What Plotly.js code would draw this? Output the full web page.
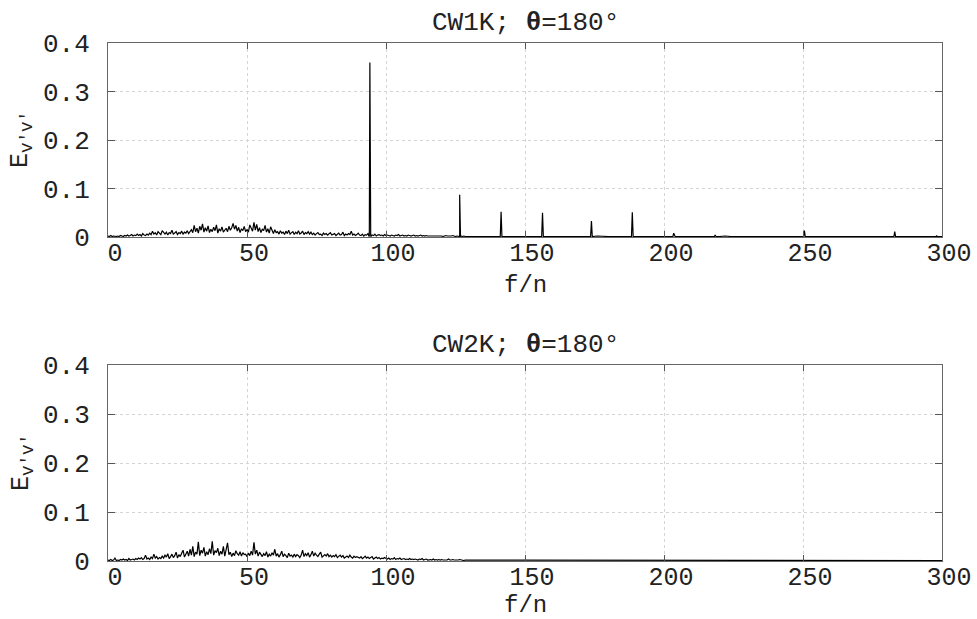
<!DOCTYPE html>
<html>
<head>
<meta charset="utf-8">
<script src="https://cdn.plot.ly/plotly-3.0.1.min.js"></script>
<style>html,body{margin:0;padding:0;background:#fff;}#chart{width:977px;height:619px;}</style>
</head>
<body>
<div id="chart"></div>
<script>
// ---------- DATA (values in thousandths of E_v'v') ----------
// Dense spectrum 0 .. 129.5, step 0.5 (rows of 10 f/n units)
const noiseStep = 0.5;
const tailStart = 130;
const tailStep = 2;

const cw1kNoise = [
  2,1,3,1,2,1,1,2,1,3,2,1,3,2,4,2,3,5,2,4,
  3,6,3,5,2,7,4,3,6,4,8,5,12,6,9,4,11,7,5,13,
  8,6,10,4,9,7,14,6,8,11,5,9,7,12,6,10,8,13,7,11,
  15,9,24,11,18,8,22,14,27,10,19,12,23,9,16,11,20,13,25,8,
  17,12,21,10,15,18,11,22,14,19,28,16,24,12,20,9,17,13,22,11,
  15,10,25,18,12,30,14,26,11,19,9,16,13,24,10,17,8,21,12,7,
  15,9,11,6,13,8,10,5,12,7,14,6,9,11,5,10,7,13,6,8,
  12,5,9,7,11,6,10,5,8,4,7,9,5,6,3,8,5,7,4,6,
  9,4,5,7,3,6,8,4,5,10,3,6,4,7,5,12,4,6,3,5,
  8,4,3,6,2,5,4,7,3,5,4,3,6,2,4,5,3,4,2,5,
  3,4,3,2,4,3,2,4,3,5,2,3,4,2,3,2,4,3,2,3,
  4,2,3,2,3,4,2,3,2,3,2,2,3,2,2,3,2,2,3,2,
  2,1,2,3,2,2,1,2,3,2,1,2,2,1,2,1,2,1,1,2
];
const cw1kTail = [
  1,2,1,1,2,1,1,1,2,1,
  1,1,2,1,1,1,1,2,1,1,
  1,1,1,2,1,1,1,1,1,2,
  1,1,1,1,2,1,1,1,1,1,
  1,1,1,1,1,1,2,1,1,1,
  1,1,1,1,1,1,1,1,1,1,
  1,1,1,1,1,1,1,1,1,1,
  1,1,1,1,1,1,1,1,1,1,
  1,1,1,1,1,1
];
const cw1kPeakX = [94.2, 126.5, 141.4, 156.3, 173.9, 188.6, 203.5, 218.4, 236, 250.5, 283, 298];
const cw1kPeakY = [360, 87, 52, 50, 33, 51, 8, 4, 2, 13, 11, 3];

const cw2kNoise = [
  2,1,3,1,2,6,1,2,1,3,2,4,2,3,1,5,2,3,4,2,
  5,3,6,4,7,3,5,12,4,6,3,8,5,14,6,9,4,7,5,10,
  6,12,8,15,5,9,14,7,11,18,6,13,9,16,22,8,14,20,10,24,
  12,30,9,18,14,39,11,22,16,28,10,19,13,25,15,40,12,21,17,26,
  11,20,14,30,10,23,37,13,18,9,16,11,21,15,12,19,10,17,13,14,
  9,16,11,20,12,38,14,22,10,18,13,9,15,11,19,8,14,10,17,12,
  24,10,15,8,13,20,9,14,11,7,16,10,12,8,14,9,13,11,7,12,
  22,9,15,11,17,8,13,20,10,16,12,9,14,18,8,11,13,10,15,9,
  12,8,11,9,13,7,10,12,8,11,6,9,10,7,12,8,6,10,7,9,
  8,6,9,5,7,10,6,8,5,7,9,4,6,8,5,7,4,6,5,7,
  5,4,6,3,5,4,7,3,5,4,6,3,4,5,3,4,3,5,3,4,
  3,4,3,2,4,3,5,2,3,4,2,3,3,2,4,2,3,2,3,2,
  3,2,2,3,2,4,2,2,3,2,2,1,2,3,2,2,1,2,2,1
];
const cw2kTail = [
  2,1,1,2,1,1,1,2,1,1,
  1,1,1,1,2,1,1,1,1,1,
  1,1,1,1,1,1,1,1,2,1,
  1,1,1,1,1,1,1,1,1,1,
  1,1,1,1,1,1,1,1,1,1,
  1,1,1,1,1,1,1,1,1,1,
  1,1,1,1,1,1,1,1,1,1,
  1,1,1,1,1,1,1,1,1,1,
  1,1,1,1,1,1
];
const cw2kPeakX = [];
const cw2kPeakY = [];

const titles = ["CW1K; <b>θ</b>=180°", "CW2K; <b>θ</b>=180°"];
const xTitle = "f/n";
const yTitle = "E<sub>v'v'</sub>";
const xTicks = [0, 50, 100, 150, 200, 250, 300];
const yTicks = [0, 0.1, 0.2, 0.3, 0.4];
const yTickText = ["0", "0.1", "0.2", "0.3", "0.4"];

// ---------- BUILD ----------
function buildSeries(noise, tail, px, py) {
  const pts = [];
  noise.forEach((v, i) => pts.push([i * noiseStep, v / 1000]));
  tail.forEach((v, i) => pts.push([tailStart + i * tailStep, v / 1000]));
  px.forEach((x, i) => {
    pts.push([x - 0.3, 0.001]);
    pts.push([x, py[i] / 1000]);
    pts.push([x + 0.3, 0.001]);
  });
  pts.sort((a, b) => a[0] - b[0]);
  return { x: pts.map(p => p[0]), y: pts.map(p => p[1]) };
}

const s1 = buildSeries(cw1kNoise, cw1kTail, cw1kPeakX, cw1kPeakY);
const s2 = buildSeries(cw2kNoise, cw2kTail, cw2kPeakX, cw2kPeakY);

const fam = "Liberation Mono, DejaVu Sans Mono, monospace";
const F = (size) => ({ family: fam, size: size, color: "#222" });

const traces = [
  { x: s1.x, y: s1.y, type: "scatter", mode: "lines", line: { color: "#000", width: 1.2 }, xaxis: "x", yaxis: "y", hoverinfo: "skip" },
  { x: s2.x, y: s2.y, type: "scatter", mode: "lines", line: { color: "#000", width: 1.2 }, xaxis: "x2", yaxis: "y2", hoverinfo: "skip" }
];

function xAxis(anchor) {
  return {
    anchor: anchor, domain: [0, 1], range: [0, 300],
    tickvals: xTicks, ticktext: xTicks.map(String),
    ticks: "inside", ticklen: 6, tickcolor: "#555", tickwidth: 1,
    showline: true, linecolor: "#666", linewidth: 1, mirror: "ticks",
    showgrid: true, gridcolor: "#d4d4d4", griddash: "dot", gridwidth: 1,
    zeroline: false, tickfont: F(25), ticklabelshift: 7, ticklabelstandoff: -7
  };
}
function yAxis(anchor, domain) {
  return {
    anchor: anchor, domain: domain, range: [0, 0.4],
    tickvals: yTicks, ticktext: yTickText,
    ticks: "inside", ticklen: 7, tickcolor: "#555", tickwidth: 1,
    showline: true, linecolor: "#666", linewidth: 1, mirror: "ticks",
    showgrid: true, gridcolor: "#d4d4d4", griddash: "dot", gridwidth: 1,
    zeroline: false, tickfont: F(26), ticklabelstandoff: 12
  };
}

function label(text, x, y, xshift, angle, size) {
  return { text: text, xref: "paper", yref: "paper", x: x, y: y, xshift: xshift, textangle: angle,
           xanchor: "center", yanchor: "middle", showarrow: false, font: F(size) };
}

const layout = {
  width: 977, height: 619,
  paper_bgcolor: "#fff", plot_bgcolor: "#fff",
  showlegend: false,
  margin: { l: 108, r: 35, t: 43, b: 58 },
  xaxis: xAxis("y"),
  yaxis: yAxis("x", [0.6255, 1]),
  xaxis2: xAxis("y2"),
  yaxis2: yAxis("x2", [0, 0.378]),
  annotations: [
    { text: titles[0], xref: "paper", yref: "paper", x: 0.5, y: 1, yshift: 3, xanchor: "center", yanchor: "bottom", showarrow: false, font: F(26) },
    { text: titles[1], xref: "paper", yref: "paper", x: 0.5, y: 0.378, yshift: 3, xanchor: "center", yanchor: "bottom", showarrow: false, font: F(26) },
    label(xTitle, 0.5, 0.531, 0, 0, 24),
    label(xTitle, 0.5, -0.0855, 0, 0, 24),
    label(yTitle, 0, 0.8128, -86, -90, 25),
    label(yTitle, 0, 0.189, -86, -90, 25)
  ]
};

Plotly.newPlot("chart", traces, layout, { displayModeBar: false, staticPlot: true });
</script>
</body>
</html>
